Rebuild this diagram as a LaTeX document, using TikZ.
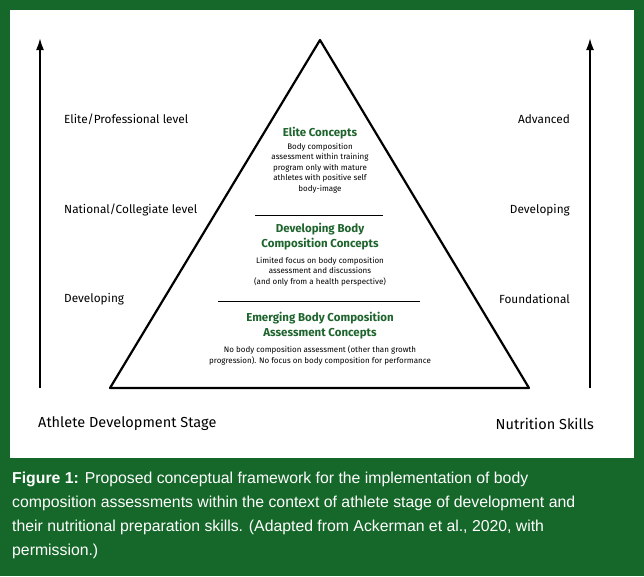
\documentclass[tikz,border=0pt]{standalone}
\usepackage{fontspec}
\setmainfont{Liberation Sans}
\newfontfamily\dfont{Fira Sans}
\definecolor{bggreen}{RGB}{22,104,42}
\definecolor{txgreen}{RGB}{30,100,45}
\tikzset{
  lbl/.style={font=\dfont\fontsize{11.8}{13}\selectfont, inner sep=0pt},
  ttl/.style={font=\dfont\bfseries\fontsize{11.5}{14.5}\selectfont, text=txgreen, align=center, inner sep=0pt},
  body/.style={font=\dfont\fontsize{8}{10.5}\selectfont, align=center, inner sep=0pt},
  axis/.style={line width=2pt, -{Latex[length=12pt,width=8pt]}}
}
\usetikzlibrary{arrows.meta}
\begin{document}
\begin{tikzpicture}[x=1pt,y=-1pt]
  \fill[bggreen] (0,0) rectangle (644,576);
  \fill[white] (10,10) rectangle (634,458);

  % pyramid
  \coordinate (top) at (320,40);
  \coordinate (bl) at (110,388);
  \coordinate (br) at (529,388);
  \draw[line width=2.2pt, line join=round] (top) -- (bl) -- (br) -- cycle;
  \draw[line width=0.7pt] (255,215) -- (383,215);
  \draw[line width=0.7pt] (218,301) -- (420,301);

  % axes
  \coordinate (la0) at (40,388);
  \coordinate (la1) at (40,38);
  \coordinate (ra0) at (590,388);
  \coordinate (ra1) at (590,38);
  \draw[axis] (la0) -- (la1);
  \draw[axis] (ra0) -- (ra1);

  % side labels
  \node[lbl, anchor=west] (elite) at (64,119) {Elite/Professional level};
  \node[lbl, anchor=west] (natl) at (64,210) {National/Collegiate level};
  \node[lbl, anchor=west] (devl) at (64,299) {Developing};
  \node[lbl, anchor=east] (adv) at (570,119) {Advanced};
  \node[lbl, anchor=east] (devr) at (570,210) {Developing};
  \node[lbl, anchor=east] (found) at (570,299) {Foundational};
  \node[lbl, anchor=west, font=\dfont\fontsize{14.5}{16}\selectfont] (stage) at (38,424) {Athlete Development Stage};
  \node[lbl, anchor=east, font=\dfont\fontsize{14.5}{16}\selectfont] (skills) at (594,424) {Nutrition Skills};

  % tiers
  \node[ttl] (t1) at (320,133) {Elite Concepts};
  \node[body, anchor=north] (b1) at (320,143) {Body composition\\assessment within training\\program only with mature\\athletes with positive self\\body-image};
  \node[ttl, anchor=north] (t2) at (320,223) {Developing Body\\Composition Concepts};
  \node[body, anchor=north] (b2) at (320,257) {Limited focus on body composition\\assessment and discussions\\(and only from a health perspective)};
  \node[ttl, anchor=north] (t3) at (320,312) {Emerging Body Composition\\Assessment Concepts};
  \node[body, anchor=north] (b3) at (320,346) {No body composition assessment (other than growth\\progression). No focus on body composition for performance};

  % caption
  \node[anchor=north west, text=white, align=left, inner sep=0pt,
        font=\fontsize{15.8}{24}\selectfont] (cap) at (12,472)
    {\textbf{Figure 1:} Proposed conceptual framework for the implementation of body\\composition assessments within the context of athlete stage of development and\\their nutritional preparation skills. (Adapted from Ackerman et al., 2020, with\\permission.)};
\end{tikzpicture}
\end{document}
